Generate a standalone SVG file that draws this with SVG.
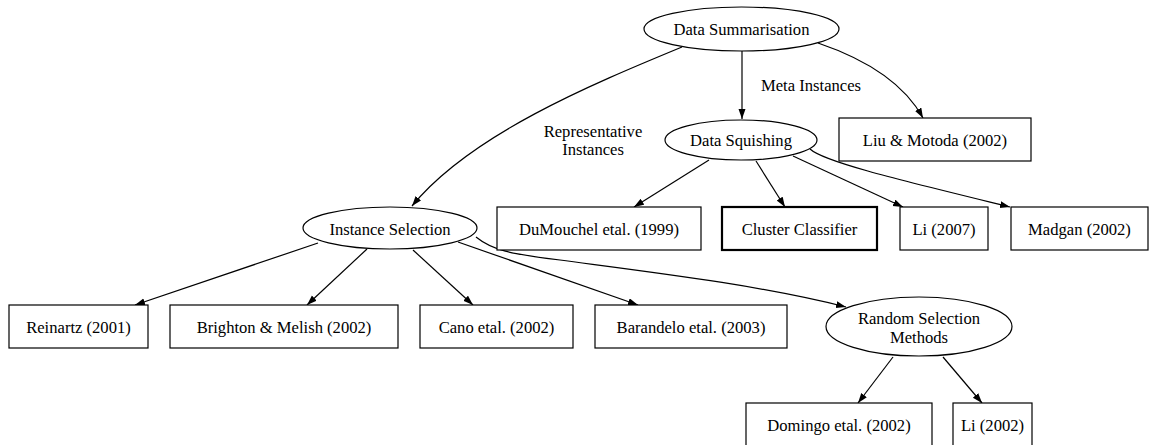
<svg xmlns="http://www.w3.org/2000/svg" width="1151" height="445" viewBox="0 0 1151 445">
  <style>
    .node ellipse, .node rect { fill: #ffffff; stroke: #000000; stroke-width: 1.2; }
    .node rect.bold { stroke-width: 2.2; }
    text { font-family: "Liberation Serif", "Times New Roman", serif; font-size: 16.6px; fill: #000000; text-anchor: middle; }
    .edges path { fill: none; stroke: #000000; stroke-width: 1.2; marker-end: url(#arrow); }
  </style>
  <defs>
    <marker id="arrow" markerUnits="userSpaceOnUse" markerWidth="11" markerHeight="8" refX="10" refY="3.5" orient="auto">
      <path d="M0,0 L10,3.5 L0,7 z" fill="#000000"/>
    </marker>
  </defs>

  <rect width="1151" height="445" fill="#ffffff"/>

  <!-- connectors -->
  <g class="edges">
    <path d="M682,47 C590,85 470,135 412,206"/>
    <path d="M742,51 L742,119"/>
    <path d="M818,43 C868,60 905,85 923,118"/>
    <path d="M709,160 L634,207"/>
    <path d="M756,161 L785,207"/>
    <path d="M793,156 L903,207"/>
    <path d="M810,149 C824,162 900,180 1010,207"/>
    <path d="M318,243 L135,305"/>
    <path d="M367,249 L307,305"/>
    <path d="M413,250 L473,305"/>
    <path d="M458,242 L638,305"/>
    <path d="M476,237 C492,250 510,254 560,260 C650,272 760,285 846,307"/>
    <path d="M893,357 L858,403"/>
    <path d="M943,357 L982,403"/>
  </g>

  <!-- edge labels -->
  <text x="811" y="91">Meta Instances</text>
  <text x="593" y="137">Representative</text>
  <text x="593" y="155">Instances</text>

  <!-- nodes -->
  <g id="data-summarisation" class="node">
    <ellipse cx="741.5" cy="29" rx="97.5" ry="22"/>
    <text x="741.5" y="35">Data Summarisation</text>
  </g>
  <g id="data-squishing" class="node">
    <ellipse cx="741" cy="140" rx="76" ry="20"/>
    <text x="741" y="146">Data Squishing</text>
  </g>
  <g id="liu-motoda" class="node">
    <rect x="839" y="118" width="192" height="43"/>
    <text x="935" y="146">Liu &amp; Motoda (2002)</text>
  </g>
  <g id="dumouchel" class="node">
    <rect x="497" y="207" width="204" height="43"/>
    <text x="599" y="235">DuMouchel etal. (1999)</text>
  </g>
  <g id="cluster-classifier" class="node">
    <rect class="bold" x="722" y="207" width="155" height="43"/>
    <text x="799.5" y="235">Cluster Classifier</text>
  </g>
  <g id="li-2007" class="node">
    <rect x="900" y="207" width="88" height="43"/>
    <text x="944" y="235">Li (2007)</text>
  </g>
  <g id="madgan" class="node">
    <rect x="1011" y="207" width="137" height="43"/>
    <text x="1079.5" y="235">Madgan (2002)</text>
  </g>
  <g id="instance-selection" class="node">
    <ellipse cx="390" cy="228" rx="87" ry="21"/>
    <text x="390" y="234.5">Instance Selection</text>
  </g>
  <g id="reinartz" class="node">
    <rect x="9" y="305" width="139" height="43"/>
    <text x="78.5" y="333">Reinartz (2001)</text>
  </g>
  <g id="brighton-melish" class="node">
    <rect x="170" y="305" width="228" height="43"/>
    <text x="284" y="333">Brighton &amp; Melish (2002)</text>
  </g>
  <g id="cano" class="node">
    <rect x="420" y="305" width="153" height="43"/>
    <text x="496.5" y="333">Cano etal. (2002)</text>
  </g>
  <g id="barandelo" class="node">
    <rect x="595" y="305" width="192" height="43"/>
    <text x="691" y="333">Barandelo etal. (2003)</text>
  </g>
  <g id="random-selection" class="node">
    <ellipse cx="919" cy="326.5" rx="93" ry="29.5"/>
    <text x="919" y="324">Random Selection</text>
    <text x="919" y="343">Methods</text>
  </g>
  <g id="domingo" class="node">
    <rect x="746" y="403" width="186" height="43"/>
    <text x="839" y="431">Domingo etal. (2002)</text>
  </g>
  <g id="li-2002" class="node">
    <rect x="953" y="403" width="79" height="43"/>
    <text x="992.5" y="431">Li (2002)</text>
  </g>
</svg>
